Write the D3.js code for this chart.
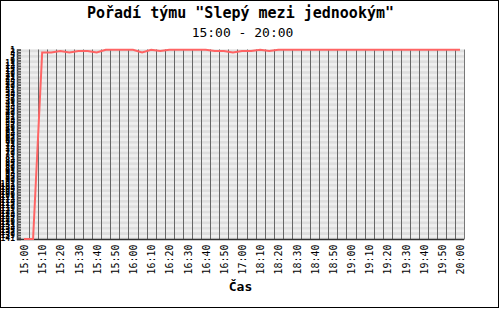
<!DOCTYPE html>
<html><head><meta charset="utf-8">
<script src="https://cdn.jsdelivr.net/npm/d3@7"></script>
<style>body{margin:0;background:#fff}svg{display:block}</style>
</head><body>
<script>
const title = "Pořadí týmu \"Slepý mezi jednookým\"";
const subtitle = "15:00 - 20:00";
const xTitle = "Čas";
const times = ["15:00","15:05","15:10","15:15","15:20","15:25","15:30","15:35","15:40","15:45","15:50","15:55",
  "16:00","16:05","16:10","16:15","16:20","16:25","16:30","16:35","16:40","16:45","16:50","16:55","17:00",
  "18:05","18:10","18:15","18:20","18:25","18:30","18:35","18:40","18:45","18:50","18:55",
  "19:00","19:05","19:10","19:15","19:20","19:25","19:30","19:35","19:40","19:45","19:50","19:55","20:00"];
const ranks = [142,142,3,3,2,3,2,2,3,1,1,1,1,3,1,2,1,1,1,1,1,2,2,3,2,2,1,2,
  1,1,1,1,1,1,1,1,1,1,1,1,1,1,1,1,1,1,1,1,1];
const rankMax = 142;
const yTicks = d3.range(1, rankMax + 1, 2);

const W = 500, H = 309;
const svg = d3.select("body").append("svg").attr("width", W).attr("height", H);
const plot = {left: 17, right: 464, top: 49.5, bottom: 239.5};

const x = d3.scalePoint().domain(times).range([24, 460]);
const y = d3.scaleLinear().domain([1, rankMax]).range([49.7, 239]);

// background bands
svg.append("rect").attr("x", plot.left).attr("y", plot.top)
  .attr("width", plot.right - plot.left).attr("height", plot.bottom - plot.top).attr("fill", "#e9e9e9");
const bandEdges = [plot.top, ...yTicks.map(y).filter(v => v > plot.top), plot.bottom];
svg.append("g").selectAll("rect").data(d3.pairs(bandEdges)).join("rect")
  .attr("x", plot.left).attr("width", plot.right - plot.left)
  .attr("y", d => d[0]).attr("height", d => d[1] - d[0])
  .attr("fill", (d, i) => i % 2 ? "#dedede" : "#efefef");

// vertical grid lines between categories
const step = x.step();
svg.append("g").selectAll("line").data(times.slice(0, -1)).join("line")
  .attr("x1", d => Math.round(x(d) + step / 2) + 0.5).attr("x2", d => Math.round(x(d) + step / 2) + 0.5)
  .attr("y1", plot.top).attr("y2", plot.bottom)
  .attr("stroke", "#666").attr("stroke-width", 1);

// right edge
svg.append("line").attr("x1", plot.right + 0.5).attr("x2", plot.right + 0.5)
  .attr("y1", plot.top).attr("y2", plot.bottom).attr("stroke", "#777").attr("stroke-width", 1);

// y axis ticks
const gy = svg.append("g").attr("transform", `translate(${plot.left},0)`)
  .call(d3.axisRight(y).tickValues(yTicks).tickSize(4).tickFormat(""));
gy.select(".domain").attr("stroke", "#333").attr("stroke-width", 1.5);
gy.selectAll(".tick line").attr("stroke", "#555").attr("stroke-width", 1.8);

// y axis labels (dense, overlapping as in the original)
const gyl = svg.append("g").attr("transform", `translate(${plot.left},0)`)
  .call(d3.axisLeft(y).tickValues(yTicks).tickSize(0).tickPadding(2).tickFormat(d3.format("d")));
gyl.select(".domain").remove();
gyl.selectAll(".tick text")
  .attr("font-family", "DejaVu Sans Mono").attr("font-size", 8).attr("font-weight", "bold").attr("fill", "#000");

// x axis
const gx = svg.append("g").attr("transform", `translate(0,${plot.bottom})`)
  .call(d3.axisBottom(x).tickSize(0).tickFormat((d, i) => i % 2 === 0 ? d : ""));
gx.select(".domain").attr("stroke", "#333").attr("stroke-width", 1.5).attr("d", `M${plot.left},0H${plot.right}`);
gx.selectAll(".tick text")
  .attr("transform", "rotate(-90)").attr("text-anchor", "end")
  .attr("x", -5).attr("y", 0).attr("dy", "0.35em")
  .attr("font-family", "DejaVu Sans Mono").attr("font-size", 10).attr("fill", "#000");

// line
svg.append("path").datum(ranks.map((r, i) => [times[i], r]))
  .attr("fill", "none").attr("stroke", "#ff6464").attr("stroke-width", 2)
  .attr("d", d3.line().x(d => x(d[0])).y(d => y(d[1])));

// titles
svg.append("text").attr("x", 240.5).attr("y", 18).attr("text-anchor", "middle")
  .attr("font-family", "DejaVu Sans Mono").attr("font-weight", "bold").attr("font-size", 15).text(title);
svg.append("text").attr("x", 242.5).attr("y", 37).attr("text-anchor", "middle")
  .attr("font-family", "DejaVu Sans Mono").attr("font-size", 13).text(subtitle);
svg.append("text").attr("x", 240.5).attr("y", 291).attr("text-anchor", "middle")
  .attr("font-family", "DejaVu Sans Mono").attr("font-weight", "bold").attr("font-size", 13).text(xTitle);

// frame
svg.append("rect").attr("x", 0.5).attr("y", 0.5).attr("width", W - 2).attr("height", H - 2)
  .attr("fill", "none").attr("stroke", "#000").attr("stroke-width", 1);
</script>
</body></html>
